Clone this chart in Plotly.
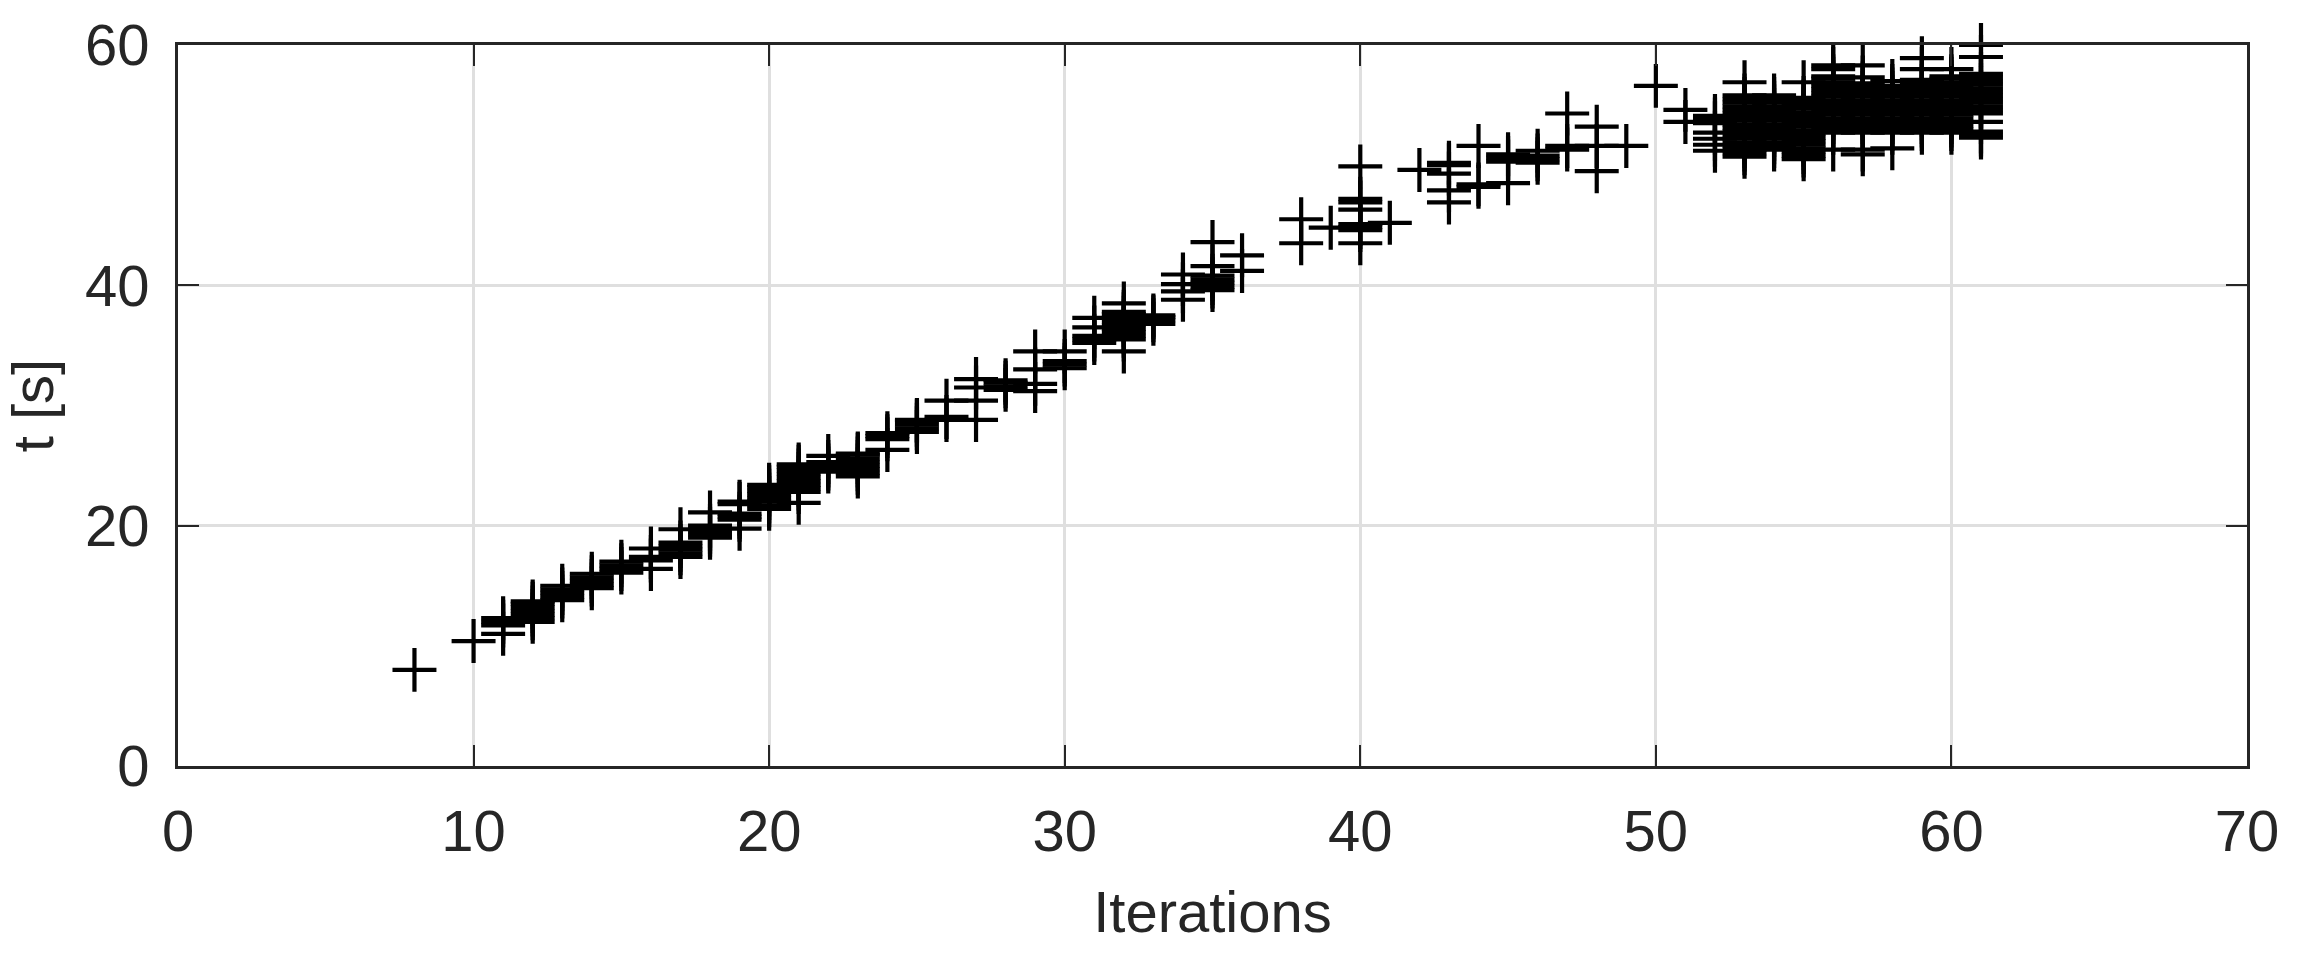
import plotly.graph_objects as go

iterations = [
    8,
    10,
    11, 11, 11, 11,
    12, 12, 12, 12, 12, 12, 12,
    13, 13, 13, 13, 13,
    14, 14, 14, 14, 14,
    15, 15, 15, 15,
    16, 16, 16, 16,
    17, 17, 17, 17, 17, 17,
    18, 18, 18, 18, 18, 18,
    19, 19, 19, 19, 19, 19,
    20, 20, 20, 20, 20, 20, 20, 20,
    21, 21, 21, 21, 21, 21, 21, 21, 21, 21,
    22, 22, 22, 22, 22,
    23, 23, 23, 23, 23, 23, 23, 23,
    24, 24, 24, 24,
    25, 25, 25, 25, 25,
    26, 26, 26,
    27, 27, 27, 27,
    28, 28, 28, 28,
    29, 29, 29, 29,
    30, 30, 30, 30,
    31, 31, 31, 31, 31,
    32, 32, 32, 32, 32, 32, 32, 32, 32, 32, 32,
    33, 33, 33, 33,
    34, 34, 34, 34,
    35, 35, 35, 35, 35, 35, 35,
    36, 36,
    38, 38,
    39,
    40, 40, 40, 40, 40, 40, 40, 40,
    41,
    42,
    43, 43, 43, 43, 43,
    44, 44, 44,
    45, 45, 45, 45,
    46, 46, 46, 46,
    47, 47, 47,
    48, 48, 48,
    49,
    50,
    51, 51,
    52, 52, 52, 52, 52, 52, 52,
    53, 53, 53, 53, 53, 53, 53, 53, 53, 53, 53, 53, 53, 53, 53, 53, 53, 53, 53,
    54, 54, 54, 54, 54, 54, 54, 54, 54, 54, 54, 54, 54, 54, 54, 54,
    55, 55, 55, 55, 55, 55, 55, 55, 55, 55, 55, 55, 55, 55, 55, 55, 55, 55, 55,
    56, 56, 56, 56, 56, 56, 56, 56, 56, 56, 56, 56, 56, 56, 56, 56, 56, 56, 56, 56,
    57, 57, 57, 57, 57, 57, 57, 57, 57, 57, 57, 57, 57, 57, 57, 57, 57, 57, 57,
    58, 58, 58, 58, 58, 58, 58, 58, 58, 58, 58, 58, 58, 58, 58, 58,
    59, 59, 59, 59, 59, 59, 59, 59, 59, 59, 59, 59, 59, 59, 59, 59, 59, 59,
    60, 60, 60, 60, 60, 60, 60, 60, 60, 60, 60, 60, 60, 60, 60, 60, 60, 60,
    61, 61, 61, 61, 61, 61, 61, 61, 61, 61, 61, 61, 61, 61, 61, 61, 61, 61,
]

time_s = [
    8.0,
    10.4,
    11.0, 11.7, 12.0, 12.3,
    12.0, 12.3, 12.6, 12.9, 13.2, 13.5, 13.7,
    13.8, 14.1, 14.4, 14.7, 15.0,
    14.8, 15.1, 15.4, 15.7, 16.0,
    16.1, 16.4, 16.7, 17.0,
    16.4, 17.1, 17.4, 18.1,
    17.4, 17.7, 18.0, 18.3, 18.6, 19.7,
    19.0, 19.25, 19.5, 19.75, 20.0, 21.1,
    19.75, 20.5, 20.75, 21.0, 21.8, 22.0,
    21.4, 21.7, 22.0, 22.3, 22.6, 22.9, 23.2, 23.4,
    21.9, 22.8, 23.1, 23.4, 23.7, 24.0, 24.3, 24.6, 24.9, 25.1,
    24.5, 24.75, 25.0, 25.3, 25.8,
    24.1, 24.4, 24.7, 25.0, 25.3, 25.6, 25.9, 26.0,
    26.3, 27.2, 27.45, 27.7,
    27.8, 28.1, 28.4, 28.7, 28.8,
    28.8, 29.05, 30.4,
    28.8, 30.4, 31.5, 32.2,
    31.3, 31.6, 31.9, 32.1,
    31.2, 31.8, 33.0, 34.5,
    33.1, 33.4, 33.7, 34.5,
    35.2, 35.5, 35.8, 36.5, 37.3,
    34.5, 35.5, 35.8, 36.1, 36.4, 36.7, 37.0, 37.3, 37.6, 37.8, 38.5,
    36.8, 37.1, 37.35, 37.5,
    38.8, 39.5, 40.1, 40.9,
    39.6, 39.9, 40.2, 40.5, 40.8, 41.6, 43.6,
    41.2, 42.5,
    43.5, 45.5,
    44.8,
    43.5, 44.6, 44.85, 45.1, 46.3, 46.9, 47.2, 49.9,
    45.2,
    49.6,
    46.9, 47.9, 49.3, 50.0, 50.2,
    48.2, 48.4, 51.6,
    48.5, 50.3, 50.6, 50.9,
    50.2, 50.5, 50.8, 51.2,
    51.3, 51.6, 54.3,
    49.5, 51.6, 53.2,
    51.6,
    56.6,
    53.6, 54.6,
    51.2, 51.7, 52.2, 52.7, 53.5, 53.8, 54.1,
    50.7, 51.0, 51.3, 51.6, 51.9, 52.2, 52.5, 52.8, 53.1, 53.4, 53.7, 54.0, 54.3, 54.6, 54.9, 55.2, 55.5, 55.8, 56.9,
    51.3, 51.6, 51.9, 52.2, 52.5, 52.8, 53.1, 53.4, 53.7, 54.0, 54.3, 54.6, 54.9, 55.2, 55.5, 55.8,
    50.5, 50.8, 51.1, 51.4, 51.7, 52.0, 52.3, 52.6, 52.9, 53.2, 53.5, 53.8, 54.1, 54.4, 54.7, 55.0, 55.3, 55.6, 56.9,
    51.3, 52.7, 53.0, 53.3, 53.6, 53.9, 54.2, 54.5, 54.8, 55.1, 55.4, 55.7, 56.0, 56.3, 56.6, 56.9, 57.2, 57.4, 58.0, 58.3,
    50.9, 51.3, 52.7, 53.0, 53.3, 53.6, 53.9, 54.2, 54.5, 54.8, 55.1, 55.4, 55.7, 56.0, 56.3, 56.6, 56.8, 57.3, 58.3,
    51.4, 52.7, 53.0, 53.3, 53.6, 53.9, 54.2, 54.5, 54.8, 55.1, 55.4, 55.7, 56.0, 56.3, 56.6, 57.0,
    52.7, 53.0, 53.3, 53.6, 53.9, 54.2, 54.5, 54.8, 55.1, 55.4, 55.7, 56.0, 56.3, 56.6, 56.9, 57.1, 58.0, 58.9,
    52.7, 53.0, 53.3, 53.6, 53.9, 54.2, 54.5, 54.8, 55.1, 55.4, 55.7, 56.0, 56.3, 56.6, 56.9, 57.2, 57.4, 58.0,
    52.3, 52.55, 52.8, 53.6, 54.3, 54.6, 54.9, 55.2, 55.5, 55.8, 56.1, 56.4, 56.7, 57.0, 57.3, 57.6, 59.0, 60.0,
]

assert len(iterations) == len(time_s)

x_ticks = [0, 10, 20, 30, 40, 50, 60, 70]
y_ticks = [0, 20, 40, 60]
x_label = "Iterations"
y_label = "t [s]"

FONT = "Liberation Sans, Arial, Helvetica, sans-serif"
AX = "#262626"

fig = go.Figure()
fig.add_trace(go.Scatter(
    x=iterations, y=time_s, mode="markers",
    marker=dict(symbol="cross-thin", size=31.4, color="black",
                line=dict(color="black", width=4.2)),
    cliponaxis=False, showlegend=False,
))

axis_common = dict(
    showgrid=True, gridcolor="#dfdfdf", gridwidth=2.5,
    zeroline=False, showline=True, linecolor=AX, linewidth=3,
    mirror="ticks", ticks="inside", ticklen=21, tickwidth=2, tickcolor=AX,
    tickfont=dict(family=FONT, size=58, color=AX),
)

fig.update_layout(
    width=2301, height=964,
    margin=dict(l=178, r=54, t=42, b=198),
    paper_bgcolor="white", plot_bgcolor="white",
    xaxis=dict(range=[0, 70], tickvals=x_ticks, ticklabelstandoff=12,
               title=dict(text=x_label, font=dict(family=FONT, size=58, color=AX), standoff=30),
               **axis_common),
    yaxis=dict(range=[0, 60], tickvals=y_ticks, ticklabelstandoff=14,
               title=dict(text=y_label, font=dict(family=FONT, size=58, color=AX), standoff=20),
               **axis_common),
)

fig.write_html("out.html", config={"displayModeBar": False},
               post_script="document.body.style.margin='0';")
